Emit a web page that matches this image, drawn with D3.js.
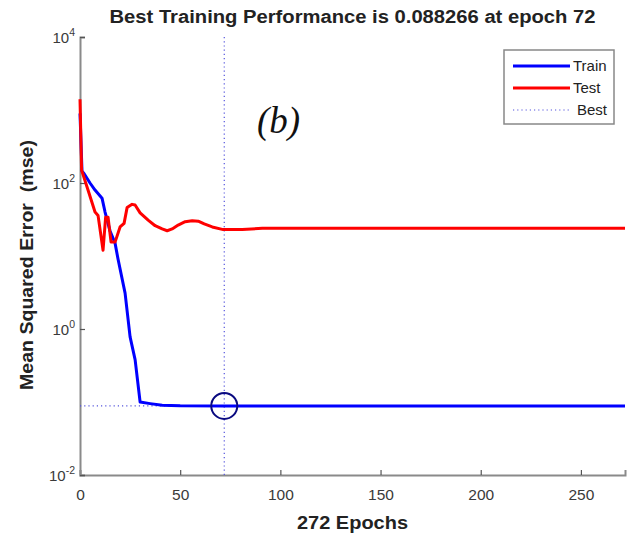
<!DOCTYPE html>
<html><head><meta charset="utf-8">
<script src="https://cdn.jsdelivr.net/npm/d3@7"></script>
<style>body{margin:0;background:#fff}svg{display:block}</style>
</head><body>
<script>
const trainEpochs = [0,1,2,5,7.5,11,12.5,15,17.5,19,22.5,25,27.5,30,35,41,50,72,100,150,200,272];
const trainMse    = [900,145,135,100,80,62,40,22,15,9,3.1,0.78,0.38,0.10,0.095,0.090,0.0885,0.088266,0.0882,0.0882,0.0882,0.0882];
const testEpochs  = [0,0.8,4,7.5,9,11.5,12.8,14,15.5,17.5,20,22,23.5,26,27.5,30,34,37.5,41,43.5,46,49,52.5,56,59,62,66,71.5,81,91,150,200,272];
const testMse     = [1400,150,80,40,36,12,34,34,15.5,15.5,25,28,46,51,50,39,31,26,23.5,22.2,23.5,26.5,29.5,30.5,30,27.5,25,23,23,24,24,24,24];
const bestEpoch = 72, bestPerf = 0.088266;
const xTicks = [0,50,100,150,200,250];
const yTickExps = [-2,0,2,4];
const legendItems = ["Train","Test","Best"];

const W=633,H=534, L=80,R=625,T=37,B=475;
const svg=d3.select("body").append("svg").attr("width",W).attr("height",H);
const x=d3.scaleLinear().domain([0,272]).range([L,R]);
const y=d3.scaleLog().domain([0.01,10000]).range([B,T]);
const font="Liberation Sans, Arial, sans-serif";

// axes
const gx=svg.append("g").attr("transform",`translate(0,${B})`)
  .call(d3.axisBottom(x).tickValues(xTicks).tickSize(-5).tickFormat(d3.format("d")).tickPadding(14));
const gy=svg.append("g").attr("transform",`translate(${L},0)`)
  .call(d3.axisLeft(y).tickValues(yTickExps.map(e=>Math.pow(10,e))).tickSize(-5).tickFormat(()=>""));
[gx,gy].forEach(g=>{
  g.select(".domain").attr("stroke","#8a8a8a").attr("stroke-width",2);
  g.selectAll(".tick line").attr("stroke","#555").attr("stroke-width",1.2);
});
gx.selectAll(".tick text").attr("font-family",font).attr("font-size",15.5).attr("fill","#3a3a3a");
// y tick labels with superscripts
yTickExps.forEach(e=>{
  const t=svg.append("text").attr("x",75).attr("y",y(Math.pow(10,e))+6)
    .attr("text-anchor","end").attr("font-family",font).attr("font-size",15).attr("fill","#3a3a3a");
  t.append("tspan").text("10");
  t.append("tspan").attr("dy",-7).attr("font-size",10.5).text(String(e));
});

// best lines
svg.append("line").attr("x1",x(bestEpoch)).attr("x2",x(bestEpoch)).attr("y1",T).attr("y2",B)
  .attr("stroke","#5555dd").attr("stroke-width",1.2).attr("stroke-dasharray","1.2,3");
svg.append("line").attr("x1",L).attr("x2",x(bestEpoch)).attr("y1",y(bestPerf)).attr("y2",y(bestPerf))
  .attr("stroke","#5555dd").attr("stroke-width",1.2).attr("stroke-dasharray","1.2,3");

const line=d3.line().x(d=>x(d[0])).y(d=>y(d[1]));
svg.append("path").datum(trainEpochs.map((e,i)=>[e,trainMse[i]])).attr("d",line)
  .attr("fill","none").attr("stroke","#0000ff").attr("stroke-width",3).attr("stroke-linejoin","round");
svg.append("path").datum(testEpochs.map((e,i)=>[e,testMse[i]])).attr("d",line)
  .attr("fill","none").attr("stroke","#ff0000").attr("stroke-width",3).attr("stroke-linejoin","round");

svg.append("circle").attr("cx",x(bestEpoch)).attr("cy",y(bestPerf)).attr("r",13)
  .attr("fill","none").attr("stroke","#0a0a80").attr("stroke-width",2);

// title & labels
svg.append("text").attr("x",(L+R)/2).attr("y",23).attr("text-anchor","middle")
  .attr("font-family",font).attr("font-weight","bold").attr("font-size",17.5).attr("fill","#222")
  .attr("textLength",486).attr("lengthAdjust","spacingAndGlyphs")
  .text(`Best Training Performance is ${bestPerf} at epoch ${bestEpoch}`);
svg.append("text").attr("x",(L+R)/2).attr("y",529).attr("text-anchor","middle")
  .attr("font-family",font).attr("font-weight","bold").attr("font-size",18).attr("fill","#222")
  .attr("textLength",111).attr("lengthAdjust","spacingAndGlyphs")
  .text("272 Epochs");
svg.append("text").attr("transform",`translate(33,265) rotate(-90)`).attr("text-anchor","middle")
  .style("white-space","pre")
  .attr("font-family",font).attr("font-weight","bold").attr("font-size",18).attr("fill","#222")
  .attr("textLength",250).attr("lengthAdjust","spacingAndGlyphs")
  .text("Mean Squared Error  (mse)");

svg.append("text").attr("x",257).attr("y",133).attr("font-family","Liberation Serif, serif")
  .attr("font-style","italic").attr("font-size",37).attr("fill","#111").text("(b)");

// legend
const lg=svg.append("g");
lg.append("rect").attr("x",504).attr("y",50).attr("width",110).attr("height",74)
  .attr("fill","#fff").attr("stroke","#888").attr("stroke-width",1.5);
const lstyles=[{c:"#0000ff",w:3,d:null},{c:"#ff0000",w:3,d:null},{c:"#5555dd",w:1.2,d:"1.2,3"}];
legendItems.forEach((n,i)=>{
  const yy=66+i*22;
  lg.append("line").attr("x1",513).attr("x2",570).attr("y1",yy).attr("y2",yy)
    .attr("stroke",lstyles[i].c).attr("stroke-width",lstyles[i].w).attr("stroke-dasharray",lstyles[i].d);
  lg.append("text").attr("x",i==2?577:573).attr("y",yy+5).attr("font-family",font).attr("font-size",15)
    .attr("fill","#222").text(n);
});
</script>
</body></html>
